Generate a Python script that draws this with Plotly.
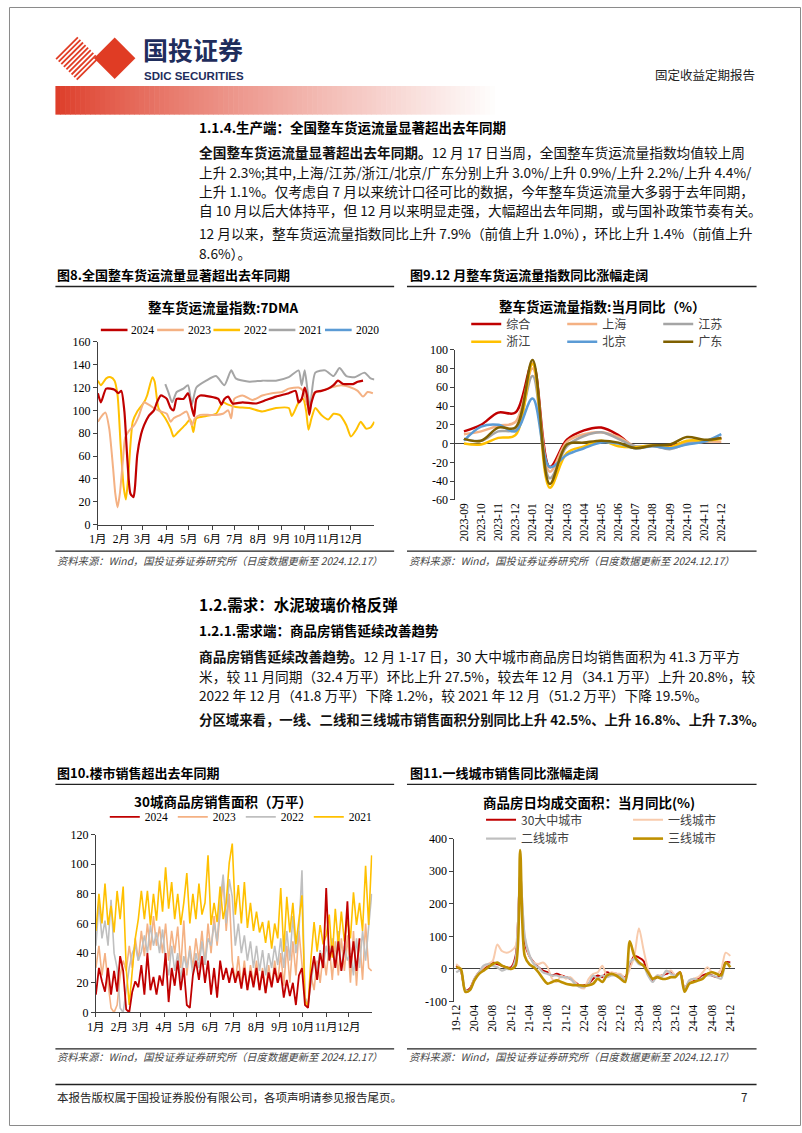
import plotly.graph_objects as go

W, H = 802, 1133
def px(x): return x / W
def py(y): return 1 - y / H

CJK = "Noto Sans CJK SC"
SERIF = "Liberation Serif"

# ---------------- Chart 8 data: 整车货运流量指数 7DMA (day of year) ----------------
month_starts = [0, 31, 59, 90, 120, 151, 181, 212, 243, 273, 304, 334]
month_labels = ["1月", "2月", "3月", "4月", "5月", "6月", "7月", "8月", "9月", "10月", "11月", "12月"]

fr24_days = [0, 4, 11, 22, 27, 31, 35, 39, 43, 47, 49, 52, 57, 61, 67, 74, 78, 83, 87, 91,
             96, 100, 104, 113, 119, 124, 127, 130, 135, 148, 159, 163, 167, 172, 178, 191, 209, 222, 235, 252,
             261, 265, 269, 273, 276, 279, 282, 287, 295, 304, 311, 317, 324, 330, 337, 343, 350]
fr24_vals = [115, 107, 119, 118, 115, 117, 99, 56, 27, 24, 33, 61, 79, 87, 95, 100, 107, 113, 112, 110,
             102, 100, 110, 110, 115, 102, 95, 110, 113, 112, 110, 105, 110, 112, 106, 107, 106, 109, 112, 115,
             117, 107, 110, 120, 113, 96, 107, 116, 117, 119, 122, 126, 123, 123, 123, 125, 126]

fr23_days = [0, 5, 10, 15, 20, 23, 26, 29, 33, 36, 41, 48, 54, 61, 67, 74, 83, 91, 96, 100,
             109, 117, 124, 128, 135, 148, 156, 165, 172, 176, 180, 191, 204, 217, 230, 243, 252, 265, 271, 276,
             280, 285, 295, 308, 321, 334, 343, 350, 356, 363]
fr23_vals = [90, 95, 98, 84, 50, 27, 15, 27, 56, 76, 82, 87, 95, 107, 105, 102, 99, 97, 90, 93,
             96, 99, 87, 93, 96, 96, 96, 97, 100, 93, 110, 113, 109, 113, 115, 116, 119, 120, 117, 105,
             102, 115, 117, 120, 122, 120, 117, 112, 116, 115]

fr22_days = [0, 4, 11, 17, 22, 26, 30, 34, 37, 40, 46, 52, 61, 65, 72, 75, 80, 89, 96, 100,
             106, 115, 122, 126, 130, 143, 156, 165, 172, 182, 200, 217, 235, 252, 256, 265, 271, 275, 278, 282,
             287, 295, 304, 311, 319, 328, 334, 341, 347, 354, 360, 365]
fr22_vals = [126, 122, 128, 129, 126, 113, 70, 33, 22, 41, 90, 99, 107, 113, 129, 125, 102, 93, 84, 77,
             81, 87, 92, 81, 93, 95, 97, 107, 105, 103, 102, 99, 102, 102, 95, 107, 110, 99, 83, 93,
             102, 96, 92, 97, 96, 87, 77, 83, 90, 84, 85, 90]

fr21_days = [89, 93, 98, 104, 113, 119, 124, 130, 143, 156, 167, 176, 182, 200, 217, 235, 252, 265, 269, 273,
             277, 280, 287, 300, 311, 319, 328, 339, 352, 360, 365]
fr21_vals = [123, 116, 107, 116, 119, 122, 105, 120, 126, 130, 122, 135, 128, 125, 126, 126, 129, 135, 122, 135,
             116, 102, 133, 135, 130, 137, 130, 129, 133, 128, 127]

fr20_days = []
fr20_vals = []
fr_names = ["2024", "2023", "2022", "2021", "2020"]

# ---------------- Chart 9 data: 当月同比 (%) ----------------
c9_months = ["2023-09", "2023-10", "2023-11", "2023-12", "2024-01", "2024-02", "2024-03", "2024-04",
             "2024-05", "2024-06", "2024-07", "2024-08", "2024-09", "2024-10", "2024-11", "2024-12"]
yoy_total = [13, 20, 33, 33, 85, -25, 4, 14, 17, 9, -4, -2, -3, 2, 3, 6]
yoy_shanghai = [10, 13, 19, 23, 80, -30, 2, 10, 12, 7, -3, -3, -5, 1, 2, 2]
yoy_jiangsu = [5, 3, 13, 15, 72, -37, -3, 8, 12, 5, -3, -2, -6, 0, 2, 6]
yoy_zhejiang = [0, -1, 6, 9, 85, -47, -10, -3, 3, -3, -4, -2, -4, 3, 3, 5]
yoy_beijing = [3, 18, 20, 13, 48, -25, -12, -5, 1, 0, -5, -3, -5, -1, 2, 10]
yoy_guangdong = [5, 3, 17, 17, 89, -43, -1, 1, 3, 1, -5, -2, -1, 7, 4, 6]
c9_yticks = [-60, -40, -20, 0, 20, 40, 60, 80, 100]

# ---------------- Chart 10 data: 30城商品房销售面积 (sampled every 4 days) ----------------
sales_step = 4
sales_2021 = [55, 80, 60, 87, 59, 72, 54, 82,
              63, 85, 30, 5, 28, 50, 63,
              82, 63, 82, 59, 80, 62, 89, 68,
              98, 70, 88, 63, 80, 59, 74,
              94, 60, 80, 63, 87, 66, 74, 106,
              59, 74, 61, 85, 63, 74, 101,
              114, 66, 86, 60, 88, 57, 74, 55,
              68, 54, 61, 47, 62, 43, 60, 50,
              84, 41, 78, 54, 74, 46, 63, 79,
              8, 4, 37, 61, 41, 59, 46, 52,
              66, 37, 70, 45, 68, 48, 63,
              50, 81, 59, 74, 55, 99, 59, 106]
sales_2022 = [45, 74, 50, 62, 45, 76, 40, 30,
              3, 0, 15, 30, 40, 45, 35,
              41, 52, 40, 59, 45, 54, 40, 56,
              35, 25, 45, 28, 40, 22, 38,
              30, 42, 25, 40, 30, 48, 32, 50,
              45, 60, 48, 75, 93, 60, 90,
              78, 45, 60, 40, 52, 35, 48, 30,
              45, 28, 42, 25, 40, 30, 45, 32,
              50, 30, 55, 35, 65, 40, 55, 96,
              10, 5, 20, 35, 28, 42, 30, 45,
              35, 50, 30, 55, 28, 45, 35,
              40, 25, 50, 30, 55, 35, 60, 80]
sales_2023 = [30, 45, 25, 40, 20, 3, 0, 5,
              25, 35, 28, 45, 30, 50, 35,
              55, 38, 60, 42, 65, 45, 58, 40,
              60, 35, 55, 40, 58, 30, 62,
              25, 45, 30, 50, 35, 55, 32, 60,
              40, 65, 45, 70, 90, 55, 80,
              35, 20, 38, 18, 35, 15, 32, 20,
              35, 15, 30, 13, 32, 18, 35, 20,
              40, 18, 45, 20, 48, 25, 55, 30,
              10, 5, 25, 15, 35, 20, 40, 25,
              45, 22, 48, 25, 50, 28, 52,
              20, 55, 18, 50, 22, 60, 30, 28]
sales_2024 = [12, 30, 21, 14, 30, 12, 28, 14,
              38, 28, 2, 0, 14, 21, 17,
              32, 12, 40, 15, 24, 12, 25, 18,
              40, 7, 30, 18, 35, 15, 30,
              5, 3, 25, 35, 22, 38, 20, 35,
              12, 30, 10, 35, 22, 30, 20,
              30, 20, 28, 16, 30, 15, 28, 17,
              30, 15, 28, 13, 27, 17, 30, 20,
              27, 10, 22, 11, 20, 5, 25, 30,
              5, 3, 25, 38, 22, 40, 30, 84,
              35, 45, 30, 48, 28, 42, 75,
              30, 48, 28, 50]

# ---------------- Chart 11 data: 商品房日均成交面积 当月同比 (%), 2019-12 .. 2024-12 ----------------
c11_tickvals = [0, 4, 8, 12, 16, 20, 24, 28, 32, 36, 40, 44, 48, 52, 56, 60]
c11_ticktext = ["19-12", "20-04", "20-08", "20-12", "21-04", "21-08", "21-12", "22-04",
                "22-08", "22-12", "23-04", "23-08", "23-12", "24-04", "24-08", "24-12"]
yoy_30city = [10, -5, -65, -60, -30, -10, 0, 10, 20, 15,
              10, 5, 5, 40, 280, 80, 40, 20, 5, -5,
              -10, -20, -15, -20, -25, -30, -40, -50, -50, -45,
              -30, -20, -25, -10, -15, -15, -20, -25, 10, 40,
              35, 25, -15, -35, -25, -20, -15, -10, -20, -10,
              -60, -40, -35, -30, -20, -15, -20, -25, -15, 20,
              20]
yoy_tier1 = [15, 0, -70, -65, -30, -10, 5, 15, 25, 75,
             55, 50, 55, 70, 300, 100, 40, 20, 15, 20,
             5, -30, -40, -20, -30, -25, -40, -55, -60, -30,
             -15, -10, 10, -20, -10, -15, -15, -30, 0, 40,
             125, 60, 0, -30, -20, -20, -10, -5, -20, -15,
             -60, -40, -30, -25, -10, 5, -10, -15, 0, 50,
             40]
yoy_tier2 = [-10, -5, -65, -65, -30, -10, 10, 15, 10, 5,
             -5, 0, 0, 30, 290, 100, 45, 15, 5, -10,
             -15, -20, -20, -25, -25, -30, -45, -55, -55, -45,
             -20, -30, -20, -25, -20, -20, -20, -35, 20, 30,
             15, 10, -20, -40, -20, -25, -5, -15, -20, -15,
             -65, -35, -30, -35, -25, -20, -20, -25, -30, 15,
             15]
yoy_tier3 = [5, 0, -70, -65, -35, -15, -5, 5, 15, 20,
             10, 5, 0, 10, 365, 40, 15, 5, -10, -30,
             -45, -40, -35, -40, -45, -48, -50, -50, -52, -50,
             -45, -30, -40, -20, -15, -20, -30, -40, 85, 40,
             20, 10, -10, -30, -25, -30, -30, -25, -25, -10,
             -70, -45, -40, -35, -30, -15, -10, -15, -20, 20,
             5]
c11_yticks = [-100, 0, 100, 200, 300, 400]

# ---------------- colours ----------------
RED = "#c00000"
SALMON = "#f4b183"
GOLD = "#ffc000"
GRAY = "#a5a5a5"
LGRAY = "#bfbfbf"
BLUE = "#5b9bd5"
OLIVE = "#7f6000"
DGOLD = "#bf9000"
PINK = "#f8cbad"

fig = go.Figure()

def add_line(x, y, name, color, width, xa, ya, leg=None, shape="spline", smooth=0.6, rank=1000):
    fig.add_trace(go.Scatter(
        x=x, y=y, name=name, mode="lines", xaxis=xa, yaxis=ya,
        legend=leg if leg else "legend", showlegend=leg is not None, legendrank=rank,
        line=dict(color=color, width=width, shape=shape, smoothing=smooth),
        hoverinfo="skip"))

# chart 8 (legend drawn as keys below, in the reference's tight spacing); 2024 drawn last (on top)
fr_colors = [RED, SALMON, GOLD, GRAY, BLUE]
fr_series = [(fr24_days, fr24_vals), (fr23_days, fr23_vals), (fr22_days, fr22_vals),
             (fr21_days, fr21_vals), (fr20_days, fr20_vals)]
draw_order = [4, 3, 2, 1, 0]
for k in draw_order:
    xs, ys = fr_series[k]
    add_line(xs, ys, fr_names[k], fr_colors[k], 2.2 if k == 0 else 2, "x", "y")

# chart 9
idx9 = list(range(len(c9_months)))
add_line(idx9, yoy_total, "综合", RED, 2.5, "x2", "y2", "legend2", smooth=1.0)
add_line(idx9, yoy_shanghai, "上海", SALMON, 2.5, "x2", "y2", "legend2", smooth=1.0)
add_line(idx9, yoy_jiangsu, "江苏", GRAY, 2.5, "x2", "y2", "legend2", smooth=1.0)
add_line(idx9, yoy_zhejiang, "浙江", GOLD, 2.5, "x2", "y2", "legend3", smooth=1.0)
add_line(idx9, yoy_beijing, "北京", BLUE, 2.5, "x2", "y2", "legend3", smooth=1.0)
add_line(idx9, yoy_guangdong, "广东", OLIVE, 2.5, "x2", "y2", "legend3", smooth=1.0)

# chart 10 (2024 drawn on top, legend order kept with legendrank)
def days_for(vals):
    return [i * sales_step for i in range(len(vals))]
add_line(days_for(sales_2023), sales_2023, "2023", SALMON, 1.6, "x3", "y3", "legend4", shape="linear", rank=2)
add_line(days_for(sales_2022), sales_2022, "2022", LGRAY, 1.6, "x3", "y3", "legend4", shape="linear", rank=3)
add_line(days_for(sales_2021), sales_2021, "2021", GOLD, 1.6, "x3", "y3", "legend4", shape="linear", rank=4)
add_line(days_for(sales_2024), sales_2024, "2024", RED, 1.8, "x3", "y3", "legend4", shape="linear", rank=1)

# chart 11
idx11 = list(range(len(yoy_30city)))
add_line(idx11, yoy_30city, "30大中城市", RED, 2, "x4", "y4", "legend5", smooth=0.8)
add_line(idx11, yoy_tier1, "一线城市", PINK, 2, "x4", "y4", "legend5", smooth=0.8)
add_line(idx11, yoy_tier2, "二线城市", LGRAY, 2.2, "x4", "y4", "legend6", smooth=0.8)
add_line(idx11, yoy_tier3, "三线城市", DGOLD, 2.6, "x4", "y4", "legend6", smooth=0.8)

AX = "#404040"
def axis(**kw):
    d = dict(showgrid=False, zeroline=False, showline=True, linecolor=AX, linewidth=1,
             ticks="outside", ticklen=4, tickcolor=AX, fixedrange=True,
             tickfont=dict(family=SERIF + ", " + CJK, size=12, color="#000"))
    d.update(kw)
    return d

def legend(x, y, entrywidth, family, size, color="#404040"):
    return dict(x=px(x), y=py(y), xanchor="left", yanchor="middle", orientation="h",
                entrywidth=entrywidth, bgcolor="rgba(0,0,0,0)", borderwidth=0,
                font=dict(family=family, size=size, color=color), itemclick=False,
                itemdoubleclick=False, tracegroupgap=0, traceorder="normal")

month_font = dict(family=SERIF + ", " + CJK, size=11.5, color="#000")
layout = dict(
    width=W, height=H, autosize=False, margin=dict(l=0, r=0, t=0, b=0, pad=0),
    paper_bgcolor="white", plot_bgcolor="rgba(0,0,0,0)", hovermode=False,
    font=dict(family=CJK, color="#000"),
    xaxis=axis(domain=[px(90), px(370)], range=[0, 365], anchor="y", tickangle=0,
               tickvals=month_starts, ticktext=month_labels, tickfont=month_font),
    yaxis=axis(domain=[py(524), py(339)], range=[0, 160], anchor="x",
               tickvals=list(range(0, 161, 20))),
    xaxis2=axis(domain=[px(452), px(730)], range=[-0.5, 15.5], anchor="y2",
                tickvals=idx9, ticktext=c9_months, tickangle=-90, showline=False, ticks="",
                tickfont=dict(family=SERIF, size=11.5, color="#000")),
    yaxis2=axis(domain=[py(499), py(347)], range=[-60, 100], anchor="x2",
                tickvals=c9_yticks, ticktext=[str(v) for v in c9_yticks],
                zeroline=True, zerolinecolor=AX, zerolinewidth=1),
    xaxis3=axis(domain=[px(88), px(368)], range=[0, 365], anchor="y3", tickangle=0,
                tickvals=month_starts, ticktext=month_labels, tickfont=month_font),
    yaxis3=axis(domain=[py(1018), py(838)], range=[0, 120], anchor="x3",
                tickvals=list(range(0, 121, 20))),
    xaxis4=axis(domain=[px(451), px(735)], range=[-0.4, 61], anchor="y4",
                tickvals=c11_tickvals, ticktext=c11_ticktext, tickangle=-90, showline=False, ticks="",
                tickfont=dict(family=SERIF, size=11.5, color="#000")),
    yaxis4=axis(domain=[py(1007), py(842)], range=[-100, 400], anchor="x4",
                tickvals=c11_yticks, ticktext=[str(v) for v in c11_yticks],
                zeroline=True, zerolinecolor=AX, zerolinewidth=1),
    legend2=legend(463, 321, 51, CJK, 12),
    legend3=legend(463, 339, 51, CJK, 12),
    legend4=legend(97, 820, 23, SERIF, 11.5, "#000"),
    legend5=legend(478, 823, 102, CJK, 12),
    legend6=legend(478, 842, 102, CJK, 12),
)
fig.update_layout(**layout)

# ---------------- decorations (shapes) ----------------
shapes = []
def hline(x0, x1, y, color="#222", width=1.2):
    shapes.append(dict(type="line", xref="paper", yref="paper", x0=px(x0), x1=px(x1),
                       y0=py(y), y1=py(y), line=dict(color=color, width=width)))

# page border
shapes.append(dict(type="rect", xref="paper", yref="paper", x0=px(0.5), x1=px(801.5),
                   y0=py(0.5), y1=py(1132.5), line=dict(color="#8a8a8a", width=1)))

# gradient header bar
n_slices = 90
bx0, bx1 = 47, 497
for i in range(n_slices):
    t = i / (n_slices - 1)
    f = t ** 0.85
    r = int(222 + (255 - 222) * f)
    g = int(62 + (255 - 62) * f)
    b = int(42 + (255 - 42) * f)
    xa = bx0 + (bx1 - bx0) * i / n_slices
    xb = bx0 + (bx1 - bx0) * (i + 1) / n_slices + 0.6
    shapes.append(dict(type="rect", xref="paper", yref="paper", x0=px(xa), x1=px(xb),
                       y0=py(109), y1=py(80), line=dict(width=0),
                       fillcolor="rgb(%d,%d,%d)" % (r, g, b)))

# logo: striped diamond + solid diamond
LOGO = "#e03c24"
cx, cy, hh = 69, 52, 22
c = -hh + 1.5
while c <= hh:
    xa, ya = cx + (c - hh) / 2, cy + (c + hh) / 2
    xb, yb = cx + (c + hh) / 2, cy + (c - hh) / 2
    shapes.append(dict(type="line", xref="paper", yref="paper", x0=px(xa), y0=py(ya),
                       x1=px(xb), y1=py(yb), line=dict(color=LOGO, width=1.8)))
    c += 5.2
dcx, dcy, dh = 107, 52, 21
path = "M %f %f L %f %f L %f %f L %f %f Z" % (
    px(dcx - dh), py(dcy), px(dcx), py(dcy - dh), px(dcx + dh), py(dcy), px(dcx), py(dcy + dh))
shapes.append(dict(type="path", xref="paper", yref="paper", path=path,
                   fillcolor=LOGO, line=dict(width=0)))

# caption underlines, source lines, footer line
for (a, b_) in [(47, 390), (403, 757)]:
    hline(a, b_, 283, "#222", 1.3)
    hline(a, b_, 551, "#222", 1.2)
    hline(a, b_, 787, "#222", 1.3)
    hline(a, b_, 1055, "#222", 1.2)
hline(47, 757, 1091, "#222", 1.5)

# chart 8 legend keys
key_x = [93, 150, 207, 263, 320]
for kx, col in zip(key_x, fr_colors):
    hline(kx, kx + 27, 327, col, 2.5)
fig.update_layout(shapes=shapes)

# ---------------- text (annotations) ----------------
ann = []
def text(x, y, s, size=13, color="#000", family=CJK, anchor="left"):
    ann.append(dict(x=px(x), y=py(y), xref="paper", yref="paper", text=s, showarrow=False,
                    xanchor=anchor, yanchor="middle", align=anchor,
                    font=dict(family=family, size=size, color=color)))

for kx, nm in zip(key_x, fr_names):
    text(kx + 29, 327, nm, 11.5, "#000", SERIF)

text(134, 43, "<b>国投证券</b>", 25, "#1f2d5c")
text(135, 69.5, "<b>SDIC SECURITIES</b>", 11.5, "#1f2d5c", "Liberation Sans")
text(652, 68, "固定收益定期报告", 12.5, "#222")

text(190, 121, "<b>1.1.4.生产端：全国整车货运流量显著超出去年同期</b>", 13.5)
para1 = [
    (147, "<b>全国整车货运流量显著超出去年同期。</b>12 月 17 日当周，全国整车货运流量指数均值较上周"),
    (167, "上升 2.3%;其中,上海/江苏/浙江/北京/广东分别上升 3.0%/上升 0.9%/上升 2.2%/上升 4.4%/"),
    (186, "上升 1.1%。仅考虑自 7 月以来统计口径可比的数据，今年整车货运流量大多弱于去年同期，"),
    (206, "自 10 月以后大体持平，但 12 月以来明显走强，大幅超出去年同期，或与国补政策节奏有关。"),
    (229, "12 月以来，整车货运流量指数同比上升 7.9%（前值上升 1.0%），环比上升 1.4%（前值上升"),
    (249, "8.6%）。"),
]
for y, s in para1:
    text(190, y, s, 13.7, "#111")

text(47, 271, "<b>图8.全国整车货运流量显著超出去年同期</b>", 13)
text(404, 271, "<b>图9.12 月整车货运流量指数同比涨幅走阔</b>", 13)
text(217, 304, "<b>整车货运流量指数:7DMA</b>", 13.5, anchor="center")
text(600, 303, "<b>整车货运流量指数:当月同比（%）</b>", 13.5, anchor="center")

src = "<i>资料来源：Wind，国投证券证券研究所（日度数据更新至 2024.12.17）</i>"
text(47, 560, src, 10.3, "#444")
text(403, 560, src, 10.3, "#444")

text(190, 604, "<b>1.2.需求：水泥玻璃价格反弹</b>", 15.5)
text(190, 631, "<b>1.2.1.需求端：商品房销售延续改善趋势</b>", 13.5)
para2 = [
    (657, "<b>商品房销售延续改善趋势。</b>12 月 1-17 日，30 大中城市商品房日均销售面积为 41.3 万平方", 13.7),
    (677, "米，较 11 月同期（32.4 万平）环比上升 27.5%，较去年 12 月（34.1 万平）上升 20.8%，较", 13.7),
    (697, "2022 年 12 月（41.8 万平）下降 1.2%，较 2021 年 12 月（51.2 万平）下降 19.5%。", 13.7),
    (721, "<b>分区域来看，一线、二线和三线城市销售面积分别同比上升 42.5%、上升 16.8%、上升 7.3%。</b>", 13.4),
]
for y, s, sz in para2:
    text(190, y, s, sz, "#111")

text(47, 775, "<b>图10.楼市销售超出去年同期</b>", 13)
text(404, 775, "<b>图11.一线城市销售同比涨幅走阔</b>", 13)
text(217, 804, "<b>30城商品房销售面积（万平）</b>", 13.5, anchor="center")
text(587, 805, "<b>商品房日均成交面积：当月同比(%)</b>", 13.5, anchor="center")

text(47, 1063, src, 10.3, "#444")
text(403, 1063, src, 10.3, "#444")

text(47, 1104, "本报告版权属于国投证券股份有限公司，各项声明请参见报告尾页。", 11.5, "#222")
text(744, 1104, "7", 11.5, "#222", anchor="center")

fig.update_layout(annotations=ann)

fig.write_html("out.html", config={"displayModeBar": False})
